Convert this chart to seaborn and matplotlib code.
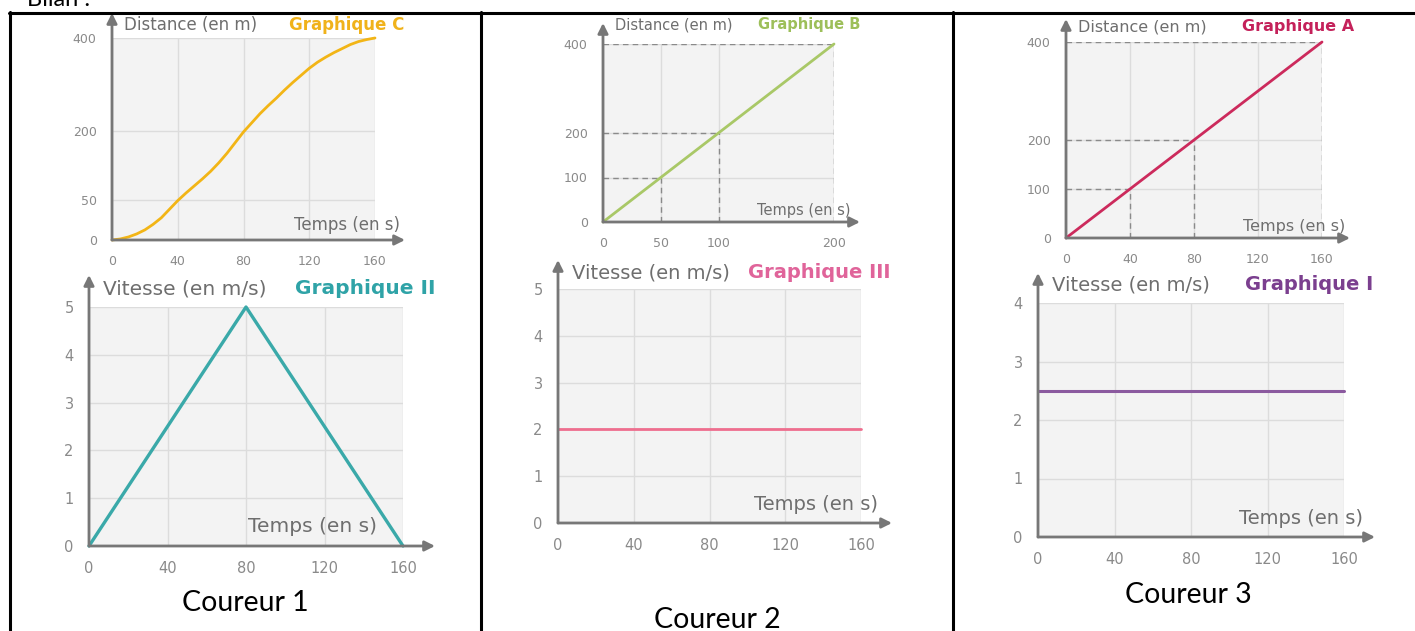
import seaborn as sns
import matplotlib.pyplot as plt

# Graphique C (distance, y positions on the drawn scale)
temps_c = [0, 5, 10, 15, 20, 25, 30, 35, 40, 45, 50, 55, 60, 65, 70, 75, 80,
           85, 90, 95, 100, 105, 110, 115, 120, 125, 130, 135, 140, 145, 150, 155, 160]
distance_c = [0, 2, 6, 12, 20, 31, 44, 61, 78, 93, 107, 121, 136, 153, 172, 193, 214,
              232, 250, 266, 281, 297, 312, 326, 340, 352, 362, 371, 379, 387, 393, 397, 400]
yticks_c = [0, 79, 216, 400]
ylabels_c = ['0', '50', '200', '400']

# Graphique B
temps_b = [0, 200]
distance_b = [0, 400]
guides_b_t = [50, 100, 200]
guides_b_d = [100, 200, 400]

# Graphique A
temps_a = [0, 160]
distance_a = [0, 400]
guides_a_t = [40, 80, 160]
guides_a_d = [100, 200, 400]

# vitesses
temps_2 = [0, 80, 160]
vitesse_2 = [0, 5, 0]
temps_3 = [0, 160]
vitesse_3 = [2, 2]
temps_1 = [0, 160]
vitesse_1 = [2.5, 2.5]

ticks_160 = [0, 40, 80, 120, 160]

sns.set_style('white')
plt.rcParams['font.family'] = ['DejaVu Sans']

W, H = 1415, 631
fig = plt.figure(figsize=(W / 100, H / 100), dpi=100)


def fx(px):
    return px / W


def fy(py):
    return 1 - py / H


def panel(box, tip, xmax, ymax, xticks, yticks, ylabels, fs):
    x0, x1, y0, y1 = box
    ax = fig.add_axes([fx(x0), fy(y0), fx(x1) - fx(x0), fy(y1) - fy(y0)])
    ax.set_xlim(0, xmax)
    ax.set_ylim(0, ymax)
    ax.set_facecolor('#f3f3f3')
    for s in ax.spines.values():
        s.set_visible(False)
    ax.set_xticks(xticks)
    ax.set_yticks(yticks)
    ax.set_yticklabels(ylabels)
    ax.tick_params(colors='#8a8a8a', labelcolor='#8a8a8a', labelsize=fs, width=1)
    ax.tick_params(axis='y', length=8, pad=3)
    ax.tick_params(axis='x', length=6, pad=5)
    ax.grid(True, color='#dcdcdc', lw=1)
    ax.set_axisbelow(True)
    xtip = xmax * (tip[0] - x0) / (x1 - x0)
    ytip = ymax * (y0 - tip[1]) / (y0 - y1)
    aprops = dict(arrowstyle='-|>,head_length=0.6,head_width=0.3', color='#777777',
                  lw=2, shrinkA=0, shrinkB=0)
    ax.annotate('', xy=(xtip, 0), xytext=(0, 0), arrowprops=aprops, annotation_clip=False)
    ax.annotate('', xy=(0, ytip), xytext=(0, 0), arrowprops=aprops, annotation_clip=False)
    return ax


def labels(pos_y, pos_g, pos_t, ylab, graph, gcolor, fs):
    fig.text(fx(pos_y[0]), fy(pos_y[1]), ylab, ha='left', va='center',
             fontsize=fs, color='#6e6e6e')
    fig.text(fx(pos_g[0]), fy(pos_g[1]), graph, ha='left', va='center',
             fontsize=fs, color=gcolor, fontweight='bold')
    fig.text(fx(pos_t[0]), fy(pos_t[1]), 'Temps (en s)', ha='right', va='center',
             fontsize=fs, color='#6e6e6e')


def guides(ax, ts, ds):
    for t, d in zip(ts, ds):
        ax.plot([0, t], [d, d], ls=(0, (4, 3)), color='#8a8a8a', lw=1, zorder=1.5)
        ax.plot([t, t], [0, d], ls=(0, (4, 3)), color='#8a8a8a', lw=1, zorder=1.5)


# --- Coureur 1 ---
ax = panel((112, 375, 240, 38), (405, 13), 160, 400, ticks_160, yticks_c, ylabels_c, 9)
sns.lineplot(x=temps_c, y=distance_c, ax=ax, color='#f2b516', lw=2, clip_on=False)
labels((124, 25), (289, 25), (400, 225), 'Distance (en m)', 'Graphique C', '#f0b21a', 12)

ax = panel((89, 403, 546, 307), (435, 275), 160, 5, ticks_160, range(6),
           [str(i) for i in range(6)], 10.5)
sns.lineplot(x=temps_2, y=vitesse_2, ax=ax, color='#3aa9a9', lw=2.4, clip_on=False)
labels((103, 289), (295, 289), (377, 527), 'Vitesse (en m/s)', 'Graphique II', '#2fa3a7', 14.5)

# --- Coureur 2 ---
ax = panel((603, 834, 222, 44), (860, 23), 200, 400, [0, 50, 100, 200], [0, 100, 200, 400],
           ['0', '100', '200', '400'], 9)
guides(ax, guides_b_t, guides_b_d)
sns.lineplot(x=temps_b, y=distance_b, ax=ax, color='#a9c867', lw=2, clip_on=False)
labels((615, 25), (758, 25), (850, 210), 'Distance (en m)', 'Graphique B', '#9dbf5a', 10.5)

ax = panel((558, 861, 523, 289), (892, 260), 160, 5, ticks_160, range(6),
           [str(i) for i in range(6)], 10.5)
sns.lineplot(x=temps_3, y=vitesse_3, ax=ax, color='#ee6e8e', lw=2, clip_on=False)
labels((572, 273), (748, 273), (878, 505), 'Vitesse (en m/s)', 'Graphique III', '#e0649a', 14)

# --- Coureur 3 ---
ax = panel((1066, 1322, 238, 42), (1350, 19), 160, 400, ticks_160, [0, 100, 200, 400],
           ['0', '100', '200', '400'], 9)
guides(ax, guides_a_t, guides_a_d)
sns.lineplot(x=temps_a, y=distance_a, ax=ax, color='#cc2a5c', lw=2, clip_on=False)
labels((1078, 27), (1242, 27), (1345, 227), 'Distance (en m)', 'Graphique A', '#c4215a', 11.5)

ax = panel((1038, 1344, 537, 303), (1375, 273), 160, 4, ticks_160, range(5),
           [str(i) for i in range(5)], 10.5)
sns.lineplot(x=temps_1, y=vitesse_1, ax=ax, color='#8b5a9f', lw=2.2, clip_on=False)
labels((1052, 285), (1245, 285), (1363, 518), 'Vitesse (en m/s)', 'Graphique I', '#7b3f8f', 14)

# table frame and captions
for x in [10, 481, 953]:
    fig.add_artist(plt.Line2D([fx(x), fx(x)], [fy(12), 0], color='black', lw=2.2))
fig.add_artist(plt.Line2D([fx(9), 1], [fy(13), fy(13)], color='black', lw=2.2))

for cx, cy, s in [(245, 603, 'Coureur 1'), (717, 620, 'Coureur 2'), (1188, 595, 'Coureur 3')]:
    fig.text(fx(cx), fy(cy), s, ha='center', va='center', fontsize=20.5,
             family=['Lato', 'DejaVu Sans'], color='black')
fig.text(fx(27), fy(6), 'Bilan :', ha='left', va='baseline', fontsize=17,
         family=['Lato', 'DejaVu Sans'], color='black')

fig.savefig('out.png', dpi=100)
